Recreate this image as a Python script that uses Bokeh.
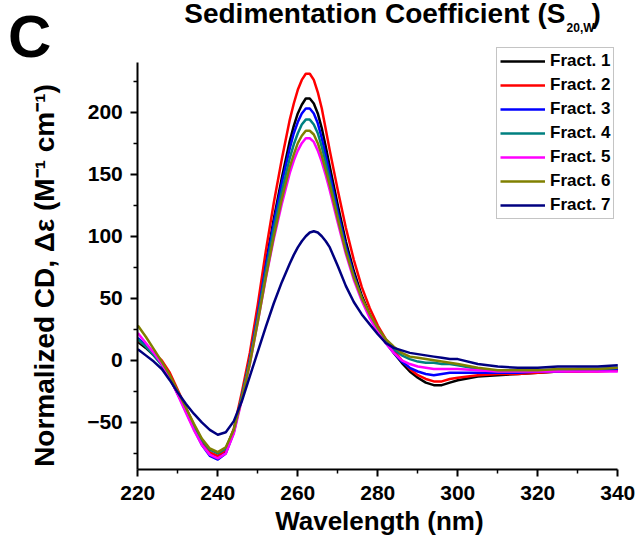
import math
from bokeh.plotting import figure
from bokeh.models import Legend, LegendItem, Label, FixedTicker, Range1d
from bokeh.embed import file_html
from bokeh.resources import INLINE

wavelength = [220, 222, 224, 226, 228, 230, 232, 234, 236, 238, 240, 242, 244, 246, 248,
              250, 252, 254, 256,
              258, 259, 260, 261, 262, 263, 264, 265, 266, 267, 268,
              270, 272, 274, 276, 278, 280, 282, 284, 286, 288, 290, 292, 294, 296, 298, 300,
              305, 310, 315, 320, 325, 330, 335, 340]

fract1 = [15, 10, 4, -3, -14, -27, -40, -54, -66, -75, -79, -74, -57, -29, 1, 38, 78, 114, 147,
          177, 189, 199, 206, 211, 211, 207, 199, 187, 172, 156,
          125, 96, 72, 52, 37, 25, 15, 6, -2, -9, -14, -18, -20, -20, -18, -16,
          -13, -12, -11, -10, -9, -9, -8, -8]
fract2 = [16, 12, 6, 0, -10, -24, -38, -52, -65, -74, -77, -72, -55, -26, 6, 45, 88, 127, 162,
          194, 207, 218, 226, 231, 231, 226, 216, 203, 186, 169,
          137, 107, 81, 59, 42, 28, 17, 8, 0, -7, -12, -15, -17, -17, -15, -14,
          -12, -11, -11, -10, -9, -9, -9, -8]
fract3 = [18, 12, 5, -3, -14, -27, -41, -55, -68, -77, -80, -75, -58, -30, 0, 37, 76, 111, 143,
          171, 183, 192, 199, 203, 203, 199, 191, 179, 165, 150,
          120, 92, 69, 50, 36, 24, 14, 6, -1, -6, -9, -11, -12, -11, -10, -10,
          -10, -10, -10, -9, -9, -8, -8, -7]
fract4 = [17, 11, 4, -4, -14, -27, -40, -53, -64, -72, -75, -71, -56, -29, 0, 35, 72, 106, 136,
          163, 174, 183, 190, 194, 194, 190, 183, 172, 159, 145,
          116, 89, 67, 50, 36, 25, 16, 9, 4, 1, -1, -2, -2, -3, -3, -4,
          -7, -9, -9, -8, -8, -7, -7, -6]
fract5 = [22, 14, 6, -3, -14, -28, -42, -56, -68, -76, -79, -75, -59, -32, -3, 31, 66, 98, 126,
          151, 161, 169, 175, 179, 179, 176, 169, 160, 149, 137,
          111, 86, 65, 48, 34, 23, 14, 6, 0, -3, -5, -6, -7, -7, -7, -7,
          -8, -9, -9, -9, -9, -9, -9, -9]
fract6 = [28, 19, 9, -1, -12, -25, -38, -51, -63, -71, -74, -70, -56, -31, -3, 31, 67, 100, 130,
          156, 166, 175, 181, 185, 185, 182, 175, 165, 153, 141,
          114, 88, 67, 50, 37, 26, 17, 11, 6, 3, 2, 1, 0, -1, -2, -3,
          -6, -8, -8, -8, -7, -7, -7, -6]
fract7 = [9, 4, -1, -7, -16, -26, -35, -43, -50, -56, -60, -58, -49, -33, -13, 7, 27, 46, 63,
          78, 85, 91, 96, 100, 103, 104, 103, 100, 96, 91,
          76, 60, 47, 37, 29, 21, 14, 10, 8, 6, 5, 4, 3, 2, 1, 1,
          -3, -5, -6, -6, -5, -5, -5, -4]

series_names = ["Fract. 1", "Fract. 2", "Fract. 3", "Fract. 4", "Fract. 5", "Fract. 6", "Fract. 7"]
series_colors = ["#000000", "#ff0000", "#0000ff", "#008080", "#ff00ff", "#808000", "#000080"]
series_values = [fract1, fract2, fract3, fract4, fract5, fract6, fract7]

x_ticks = [220, 240, 260, 280, 300, 320, 340]
x_minor = [230, 250, 270, 290, 310, 330]
y_ticks = [-50, 0, 50, 100, 150, 200]
y_minor = [-75, -25, 25, 75, 125, 175, 225]

FONT = "Liberation Sans"
W, H = 636, 540

# the frame fills the canvas; both axes sit at fixed data locations
p = figure(width=W, height=H, output_backend="svg", toolbar_location=None,
           x_range=Range1d(185.675, 344.675), y_range=Range1d(-145.2, 290.0),
           min_border_left=0, min_border_right=0, min_border_top=0, min_border_bottom=0)
p.outline_line_color = None
p.grid.visible = False
p.background_fill_color = "white"
p.border_fill_color = "white"

for ax in (p.xaxis[0], p.yaxis[0]):
    ax.axis_line_width = 2
    ax.major_tick_line_width = 2
    ax.minor_tick_line_width = 1.5
    ax.major_tick_in = 0
    ax.major_tick_out = 7
    ax.minor_tick_in = 0
    ax.minor_tick_out = 4
    ax.major_label_text_font = FONT
    ax.major_label_text_font_style = "bold"
    ax.major_label_text_font_size = "21px"
    ax.major_label_text_color = "black"

p.xaxis.fixed_location = -88
p.yaxis.fixed_location = 220
p.xaxis.bounds = (220, 340)
p.yaxis.bounds = (-88, 240)
p.xaxis.ticker = FixedTicker(ticks=x_ticks, minor_ticks=x_minor)
p.yaxis.ticker = FixedTicker(ticks=y_ticks, minor_ticks=y_minor)
p.xaxis.major_label_standoff = 9
p.yaxis.major_label_standoff = 8

items = []
for name, color, vals in zip(series_names, series_colors, series_values):
    r = p.line(wavelength, vals, line_color=color, line_width=2.5, line_join="round")
    items.append(LegendItem(label=name, renderers=[r]))

legend = Legend(items=items, location=(496, 321), orientation="vertical",
                label_text_font=FONT, label_text_font_style="bold",
                label_text_font_size="17px", label_text_color="black",
                glyph_width=45, glyph_height=20, label_height=20, label_standoff=5,
                spacing=4, padding=3, border_line_color="#8a8a8a", border_line_width=1.5,
                background_fill_alpha=1.0, background_fill_color="white")
p.add_layout(legend, "center")

def add_text(x, y, text, size, align="left", baseline="alphabetic", angle=0.0):
    p.add_layout(Label(x=x, y=y, text=text, angle=angle,
                       text_font=FONT, text_font_style="bold", text_font_size=size,
                       text_color="black", text_baseline=baseline, text_align=align))

# axis titles
add_text(280.4, -129.1, "Wavelength (nm)", "26px", align="center", baseline="middle")
add_text(196.55, 68.4, "Normalized CD, \u0394\u03b5 (M\u207b\u00b9 cm\u207b\u00b9)", "28px",
         align="center", baseline="middle", angle=math.pi / 2)

# panel letter and title
add_text(187.575, 261.0, "C", "60px")
add_text(326.9, 279.6, "Sedimentation Coefficient (S", "28px", align="right")
add_text(327.2, 268.1, "20,W", "12px")
add_text(333.4, 279.6, ")", "28px")

open("out.html", "w").write(file_html(p, INLINE))
